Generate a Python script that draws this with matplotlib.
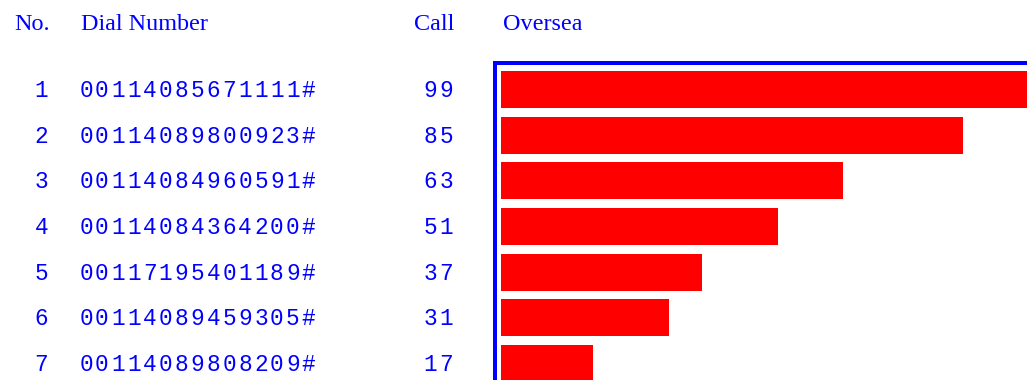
import matplotlib
matplotlib.use("Agg")
import matplotlib.pyplot as plt
from matplotlib.transforms import blended_transform_factory

# Top overseas dial numbers by call count
ranks = [1, 2, 3, 4, 5, 6, 7]
dial_numbers = [
    "00114085671111#",
    "00114089800923#",
    "00114084960591#",
    "00114084364200#",
    "00117195401189#",
    "00114089459305#",
    "00114089808209#",
]
calls = [99, 85, 63, 51, 37, 31, 17]
headers = ["No.", "Dial Number", "Call", "Oversea"]

BLUE = "#0000ff"
RED = "#ff0000"
W, H = 1027, 380

fig = plt.figure(figsize=(W / 100, H / 100), dpi=100)

# geometry in pixels
frame_left, frame_top = 494.5, 62.5
bar_x0, px_per_call = 501.0, 5.43
row0, row_step = 89.5, 45.67
ax_right_px, ax_bottom_px = 1200.0, 480.0

ax = fig.add_axes([frame_left / W, 1 - ax_bottom_px / H,
                   (ax_right_px - frame_left) / W, (ax_bottom_px - frame_top) / H])
ax.set_xlim((frame_left - bar_x0) / px_per_call, (ax_right_px - bar_x0) / px_per_call)
ax.set_ylim((ax_bottom_px - row0) / row_step, (frame_top - row0) / row_step)

rows = list(range(len(calls)))
ax.barh(rows, calls, height=37 / row_step, left=0, color=RED, edgecolor="none")

for side in ("left", "top", "right", "bottom"):
    ax.spines[side].set_color(BLUE)
    ax.spines[side].set_linewidth(4 * 72 / 100)
ax.set_xticks([])
ax.set_yticks([])

# header row
hdr_font = dict(family="Liberation Serif", size=17.4, color=BLUE)
hdr_y = 1 - 30 / H
fig.text(14 / W, hdr_y, headers[0], ha="left", va="baseline", **hdr_font)
fig.text(81 / W, hdr_y, headers[1], ha="left", va="baseline", **hdr_font)
fig.text(454 / W, hdr_y, headers[2], ha="right", va="baseline", **hdr_font)
fig.text(503 / W, hdr_y, headers[3], ha="left", va="baseline", **hdr_font)

# table rows, drawn in fixed-pitch cells
tr = blended_transform_factory(fig.transFigure, ax.transData)
mono = dict(family="Liberation Mono", size=16.4, color=BLUE, weight="medium")
pitch = 15.9
base_off = 7.5 / row_step


def draw_cells(text, y, first_center=None, last_center=None):
    n = len(text)
    if first_center is None:
        first_center = last_center - (n - 1) * pitch
    for k, ch in enumerate(text):
        ax.text((first_center + k * pitch) / W, y + base_off, ch, transform=tr,
                ha="center", va="baseline", **mono)


for r, num, dial, c in zip(rows, ranks, dial_numbers, calls):
    draw_cells(str(num), r, last_center=41.5)
    draw_cells(dial, r, first_center=86)
    draw_cells(str(c), r, last_center=446)

fig.savefig("out.png", dpi=100)
